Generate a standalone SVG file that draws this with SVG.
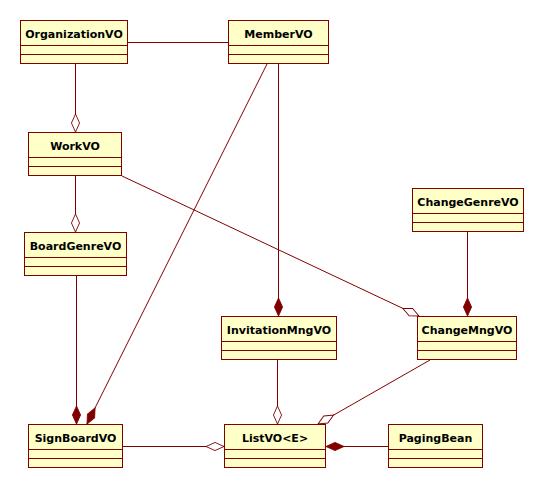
<svg xmlns="http://www.w3.org/2000/svg" width="545" height="489" viewBox="0 0 545 489">
<style>
.box{fill:#FFFFC8;stroke:#800000;stroke-width:1}
.sep{stroke:#800000;stroke-width:1}
.lbl{font-family:"DejaVu Sans","Liberation Sans",sans-serif;font-weight:bold;font-size:11px;fill:#000;text-anchor:middle}
.c{fill:none;stroke:#800000;stroke-width:1}
.agg{marker-end:url(#open)}
.comp{marker-end:url(#filled)}
</style>
<defs>
<marker id="open" markerUnits="userSpaceOnUse" viewBox="0 0 20 10" refX="20" refY="5" markerWidth="20" markerHeight="9" orient="auto" overflow="visible">
<path d="M0,5 L10,0.5 L20,5 L10,9.5 Z" fill="#fff" stroke="#800000" stroke-width="1"/>
</marker>
<marker id="filled" markerUnits="userSpaceOnUse" viewBox="0 0 20 10" refX="20" refY="5" markerWidth="20" markerHeight="9" orient="auto" overflow="visible">
<path d="M0,5 L10,0.5 L20,5 L10,9.5 Z" fill="#800000" stroke="#800000" stroke-width="1"/>
</marker>
</defs>
<rect width="545" height="489" fill="#fff"/>
<g id="connectors">
<path class="c" d="M128,42.5 H228"/>
<path class="c agg" d="M75.5,64 V132"/>
<path class="c agg" d="M75.5,176 V232"/>
<path class="c comp" d="M76.5,276 V424"/>
<path class="c comp" d="M267,64 L87,424"/>
<path class="c comp" d="M278.5,64 V316"/>
<path class="c agg" d="M122,176 L419,316"/>
<path class="c comp" d="M467.5,232 V316"/>
<path class="c agg" d="M277.5,360 V424"/>
<path class="c agg" d="M430,360 L318,424"/>
<path class="c agg" d="M123,446.5 H224"/>
<path class="c comp" d="M388,446.5 H326"/>
</g>
<g id="OrganizationVO">
<rect class="box" x="20.5" y="20.5" width="107" height="43"/>
<path class="sep" d="M20.5,45.5 H127.5 M20.5,54.5 H127.5"/>
<text class="lbl" x="74" y="37.5">OrganizationVO</text>
</g>
<g id="MemberVO">
<rect class="box" x="228.5" y="20.5" width="100" height="43"/>
<path class="sep" d="M228.5,45.5 H328.5 M228.5,54.5 H328.5"/>
<text class="lbl" x="278.5" y="37.5">MemberVO</text>
</g>
<g id="WorkVO">
<rect class="box" x="28.5" y="132.5" width="93" height="43"/>
<path class="sep" d="M28.5,157.5 H121.5 M28.5,166.5 H121.5"/>
<text class="lbl" x="75" y="149.5">WorkVO</text>
</g>
<g id="BoardGenreVO">
<rect class="box" x="24.5" y="232.5" width="102" height="43"/>
<path class="sep" d="M24.5,257.5 H126.5 M24.5,266.5 H126.5"/>
<text class="lbl" x="75.5" y="249.5">BoardGenreVO</text>
</g>
<g id="ChangeGenreVO">
<rect class="box" x="412.5" y="188.5" width="111" height="43"/>
<path class="sep" d="M412.5,213.5 H523.5 M412.5,222.5 H523.5"/>
<text class="lbl" x="468" y="205.5">ChangeGenreVO</text>
</g>
<g id="InvitationMngVO">
<rect class="box" x="221.5" y="316.5" width="115" height="43"/>
<path class="sep" d="M221.5,341.5 H336.5 M221.5,350.5 H336.5"/>
<text class="lbl" x="279" y="333.5">InvitationMngVO</text>
</g>
<g id="ChangeMngVO">
<rect class="box" x="417.5" y="316.5" width="99" height="43"/>
<path class="sep" d="M417.5,341.5 H516.5 M417.5,350.5 H516.5"/>
<text class="lbl" x="467" y="333.5">ChangeMngVO</text>
</g>
<g id="SignBoardVO">
<rect class="box" x="28.5" y="424.5" width="94" height="43"/>
<path class="sep" d="M28.5,449.5 H122.5 M28.5,458.5 H122.5"/>
<text class="lbl" x="75.5" y="441.5">SignBoardVO</text>
</g>
<g id="ListVO">
<rect class="box" x="224.5" y="424.5" width="101" height="43"/>
<path class="sep" d="M224.5,449.5 H325.5 M224.5,458.5 H325.5"/>
<text class="lbl" x="275" y="441.5">ListVO&lt;E&gt;</text>
</g>
<g id="PagingBean">
<rect class="box" x="388.5" y="424.5" width="94" height="43"/>
<path class="sep" d="M388.5,449.5 H482.5 M388.5,458.5 H482.5"/>
<text class="lbl" x="435.5" y="441.5">PagingBean</text>
</g>
</svg>
